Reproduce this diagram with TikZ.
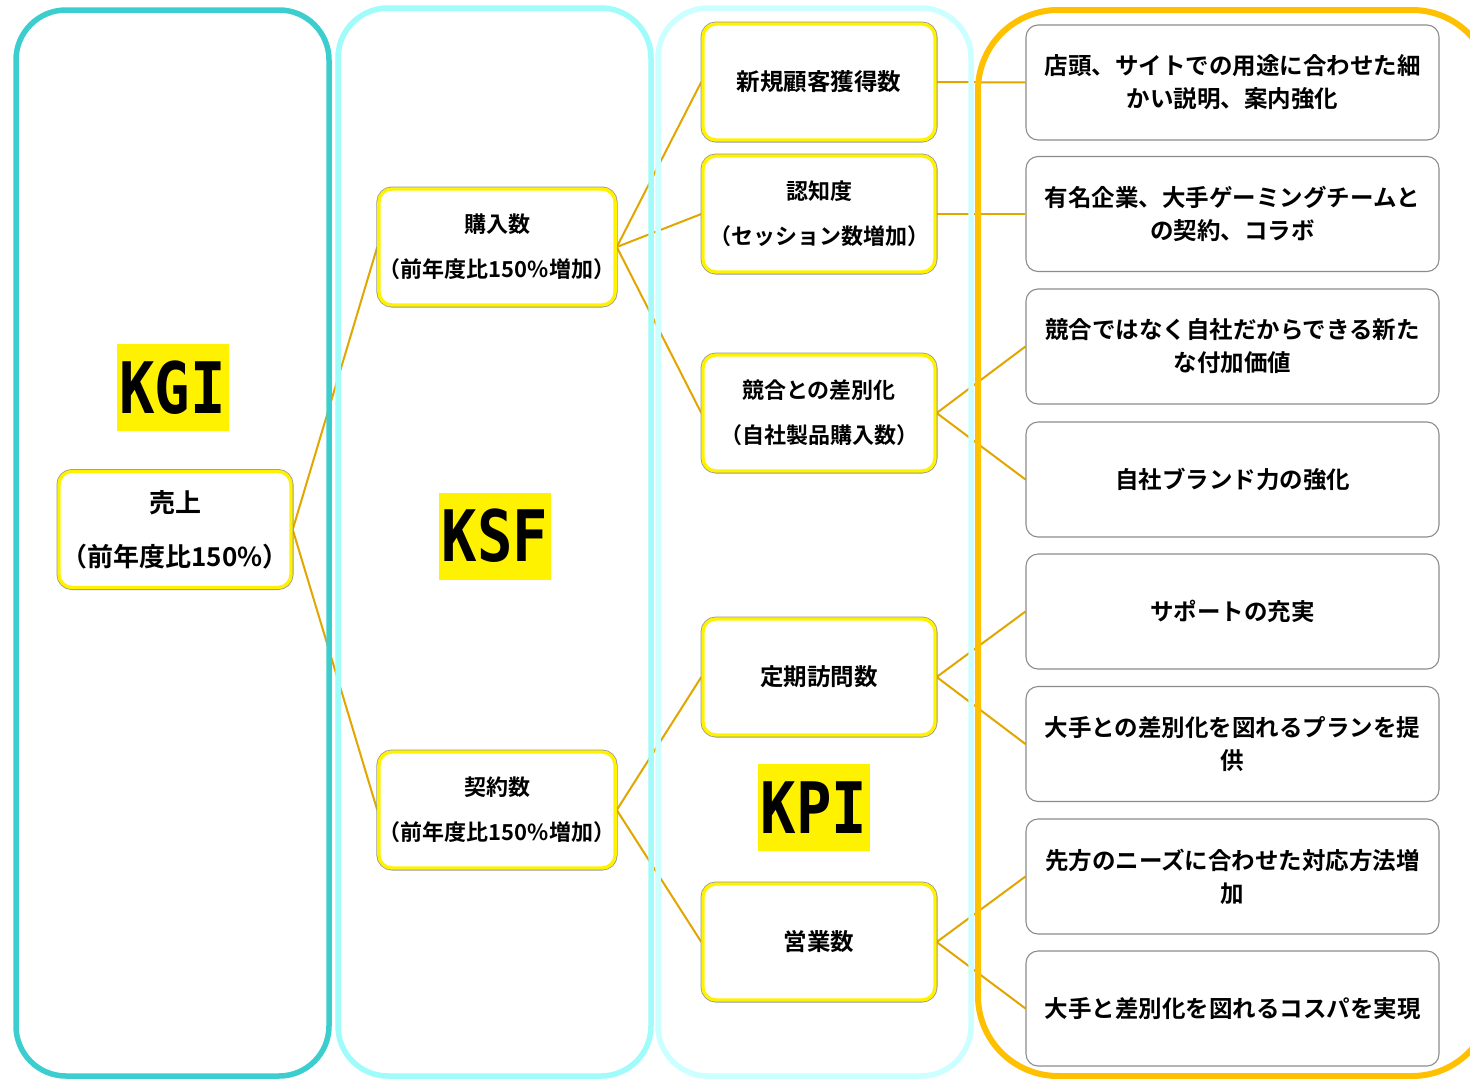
\documentclass[tikz,border=0pt]{standalone}
\usepackage{fontspec}
\usepackage{graphicx}
\newfontfamily\jp{Noto Sans CJK JP}[BoldFont={Noto Sans CJK JP Bold}]
\newfontfamily\monof{DejaVu Sans Mono}
\definecolor{colA}{RGB}{60,206,206}
\definecolor{colB}{RGB}{160,251,251}
\definecolor{colC}{RGB}{204,255,255}
\definecolor{colD}{RGB}{255,192,0}
\definecolor{conn}{RGB}{226,166,0}
\definecolor{boxgray}{RGB}{140,140,140}
\pgfdeclarelayer{bgl}
\pgfdeclarelayer{midl}
\pgfsetlayers{bgl,midl,main}
\begin{document}
\begin{tikzpicture}[x=1pt,y=-1pt,
  ynode/.style={draw=yellow, line width=3.4pt, rounded corners=13pt, fill=white,
    preaction={draw=boxgray!90, line width=5pt},
    minimum width=232pt, minimum height=116pt, align=center, inner sep=0pt,
    font=\jp\bfseries\fontsize{23.5}{45}\selectfont},
  small/.style={font=\jp\bfseries\fontsize{22}{45}\selectfont},
  gnode/.style={draw=boxgray, line width=1.1pt, rounded corners=12pt, fill=white,
    minimum width=413pt, minimum height=115pt, align=center, inner sep=0pt,
    font=\jp\bfseries\fontsize{23.5}{33}\selectfont},
  tag/.style={fill=yellow, minimum width=112pt, minimum height=87pt, inner sep=0pt,
    font=\monof\bfseries\fontsize{71}{71}\selectfont},
  link/.style={draw=conn, line width=2pt},
  column/.style={line width=5.5pt, rounded corners=50pt}
]
\useasboundingbox (0,0) rectangle (1470,1079);
\begin{pgfonlayer}{bgl}
\fill[white] (0,0) rectangle (1470,1079);
\end{pgfonlayer}

% columns
\begin{pgfonlayer}{midl}
\draw[column, colA] (16,1076) rectangle (329,10);
\draw[column, colB] (338,1076) rectangle (651,8);
\draw[column, colC] (658,1076) rectangle (971,8);
\draw[column, colD, line width=6pt, rounded corners=80pt] (978,1076) rectangle (1492,10);
\end{pgfonlayer}

% tags
\node[tag] (kgi) at (172.5,387.5) {\scalebox{0.83}[1]{KGI}};
\node[tag] (ksf) at (495,536) {\scalebox{0.83}[1]{KSF}};
\node[tag] (kpi) at (814,807.5) {\scalebox{0.83}[1]{KPI}};

% yellow nodes
\node[ynode, font=\jp\bfseries\fontsize{26}{54}\selectfont] (uriage) at (175,529.5) {売上\\（前年度比150\%）};
\node[ynode, small] (kounyu) at (497,247) {購入数\\（前年度比150\%増加）};
\node[ynode, small] (keiyaku) at (497,810) {契約数\\（前年度比150\%増加）};
\node[ynode] (shinki) at (819,82) {新規顧客獲得数};
\node[ynode, small] (ninchi) at (819,214) {認知度\\（セッション数増加）};
\node[ynode, small] (kyougou) at (819,413) {競合との差別化\\（自社製品購入数）};
\node[ynode] (teiki) at (819,677) {定期訪問数};
\node[ynode] (eigyou) at (819,942) {営業数};

% gray nodes
\node[gnode] (g1) at (1232.5,82.5) {店頭、サイトでの用途に合わせた細\\かい説明、案内強化};
\node[gnode] (g2) at (1232.5,214) {有名企業、大手ゲーミングチームと\\の契約、コラボ};
\node[gnode] (g3) at (1232.5,346.5) {競合ではなく自社だからできる新た\\な付加価値};
\node[gnode] (g4) at (1232.5,479.5) {自社ブランド力の強化};
\node[gnode] (g5) at (1232.5,611.5) {サポートの充実};
\node[gnode] (g6) at (1232.5,744) {大手との差別化を図れるプランを提\\供};
\node[gnode] (g7) at (1232.5,876.5) {先方のニーズに合わせた対応方法増\\加};
\node[gnode] (g8) at (1232.5,1008.5) {大手と差別化を図れるコスパを実現};

% connectors
\begin{pgfonlayer}{bgl}
\draw[link] (uriage.east) -- (kounyu.west);
\draw[link] (uriage.east) -- (keiyaku.west);
\draw[link] (kounyu.east) -- (shinki.west);
\draw[link] (kounyu.east) -- (ninchi.west);
\draw[link] (kounyu.east) -- (kyougou.west);
\draw[link] (keiyaku.east) -- (teiki.west);
\draw[link] (keiyaku.east) -- (eigyou.west);
\draw[link] (shinki.east) -- (g1.west);
\draw[link] (ninchi.east) -- (g2.west);
\draw[link] (kyougou.east) -- (g3.west);
\draw[link] (kyougou.east) -- (g4.west);
\draw[link] (teiki.east) -- (g5.west);
\draw[link] (teiki.east) -- (g6.west);
\draw[link] (eigyou.east) -- (g7.west);
\draw[link] (eigyou.east) -- (g8.west);
\end{pgfonlayer}
\end{tikzpicture}
\end{document}
